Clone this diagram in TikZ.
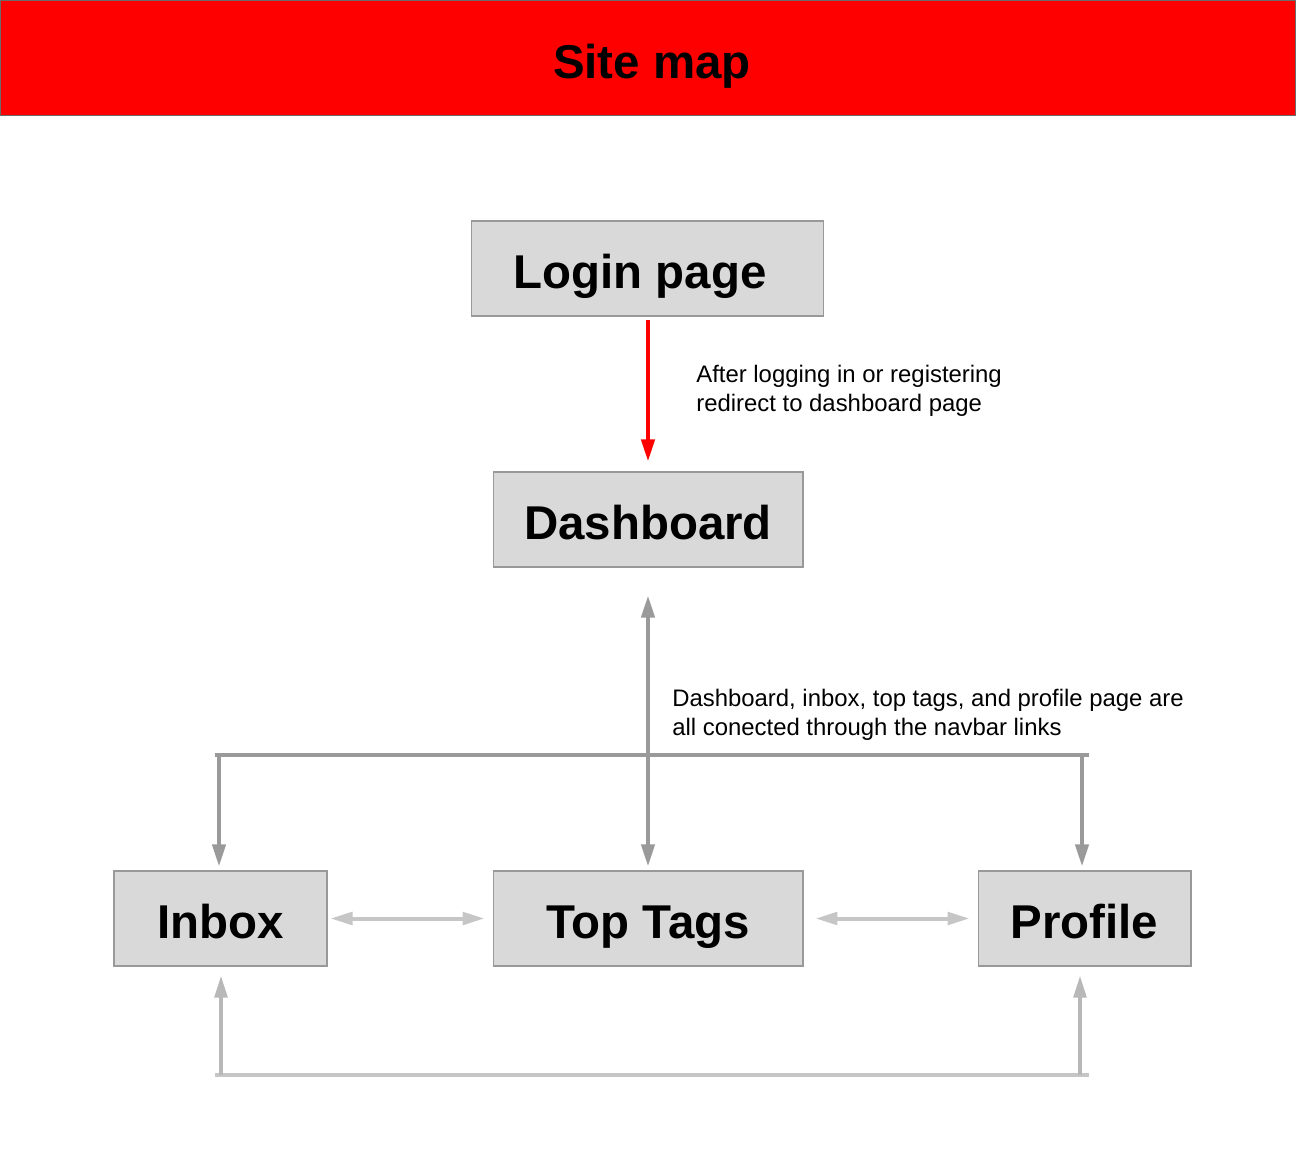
\documentclass[tikz,border=0pt]{standalone}
\usepackage{fontspec}
\setmainfont{Liberation Sans}
\usetikzlibrary{arrows.meta}
\definecolor{boxfill}{HTML}{D9D9D9}
\definecolor{boxline}{HTML}{999999}
\definecolor{navgray}{HTML}{9A9A9A}
\definecolor{linkgray}{HTML}{C6C6C6}
\definecolor{backgray}{HTML}{B8B8B8}
\begin{document}
\begin{tikzpicture}[x=0.02cm,y=-0.02cm,
  page/.style={draw=boxline, line width=0.6pt, fill=boxfill, inner sep=0pt,
    minimum height=1.9cm, text height=23.2pt, text depth=0pt,
    font=\fontsize{27}{32}\selectfont\bfseries},
  note/.style={anchor=base west, align=left, inner sep=0pt,
    font=\fontsize{13.6}{16.5}\selectfont},
  redflow/.style={draw=red, line width=0.08cm, -{Triangle[length=0.44cm, width=0.26cm]}},
  navlink/.style={draw=navgray, line width=0.08cm},
  navarrow/.style={navlink, -{Triangle[length=0.44cm, width=0.26cm]}},
  sidelink/.style={draw=linkgray, line width=0.08cm,
    {Triangle[length=0.44cm, width=0.25cm]}-{Triangle[length=0.44cm, width=0.25cm]}},
  backlink/.style={draw=linkgray, line width=0.08cm},
  backarrow/.style={draw=backgray, line width=0.08cm, -{Triangle[length=0.44cm, width=0.25cm]}}]

  \useasboundingbox (0,0) rectangle (1296,1173);

  % title bar
  \fill[red] (0,0) rectangle (1296,115);
  \draw[boxline!70!black, line width=0.4pt] (0.5,0.5) rectangle (1295.5,115);
  \node[anchor=base, inner sep=0pt, font=\fontsize{27}{32}\selectfont\bfseries] (title) at (652,78) {Site map};

  % pages
  \node[page, minimum width=7.06cm] (login) at (647.5,268.5) {\hspace*{-0.3cm}Login page};
  \node[page, minimum width=6.2cm] (dash) at (648,519.5) {Dashboard};
  \node[page, minimum width=4.26cm] (inbox) at (220.5,918.5) {Inbox};
  \node[page, minimum width=6.2cm] (tags) at (648,918.5) {Top Tags};
  \node[page, minimum width=4.26cm] (profile) at (1084.5,918.5) {Profile};

  % login -> dashboard
  \draw[redflow, shorten <=0.06cm, shorten >=0.2cm] (login.south -| 648,0) -- (dash.north -| 648,0);
  \node[note] (redirect) at (696,411) {After logging in or registering\\redirect to dashboard page};

  % navbar connections
  \coordinate (navL) at (215,755);
  \coordinate (navR) at (1089,755);
  \coordinate (navInbox) at (219,755);
  \coordinate (navProfile) at (1082,755);
  \draw[navlink] (navL) -- (navR);
  \draw[navarrow, shorten >=0.08cm] (navInbox) -- (navInbox |- inbox.north);
  \draw[navarrow, shorten >=0.08cm] (navProfile) -- (navProfile |- profile.north);
  \draw[navlink, {Triangle[length=0.44cm, width=0.26cm]}-{Triangle[length=0.44cm, width=0.26cm]},
        shorten <=0.56cm, shorten >=0.08cm] (dash.south) -- (tags.north);
  \node[note] (navnote) at (672,735) {Dashboard, inbox, top tags, and profile page are\\all conected through the navbar links};

  % neighbouring pages
  \draw[sidelink, shorten <=0.06cm, shorten >=0.16cm] (inbox.east) -- (tags.west);
  \draw[sidelink, shorten <=0.24cm, shorten >=0.16cm] (tags.east) -- (profile.west);

  % loop back between inbox and profile
  \coordinate (backL) at (215,1075);
  \coordinate (backR) at (1089,1075);
  \coordinate (backInbox) at (221,1075);
  \coordinate (backProfile) at (1080,1075);
  \draw[backlink] (backL) -- (backR);
  \draw[backarrow, shorten >=0.18cm] (backInbox) -- (backInbox |- inbox.south);
  \draw[backarrow, shorten >=0.18cm] (backProfile) -- (backProfile |- profile.south);
\end{tikzpicture}
\end{document}
